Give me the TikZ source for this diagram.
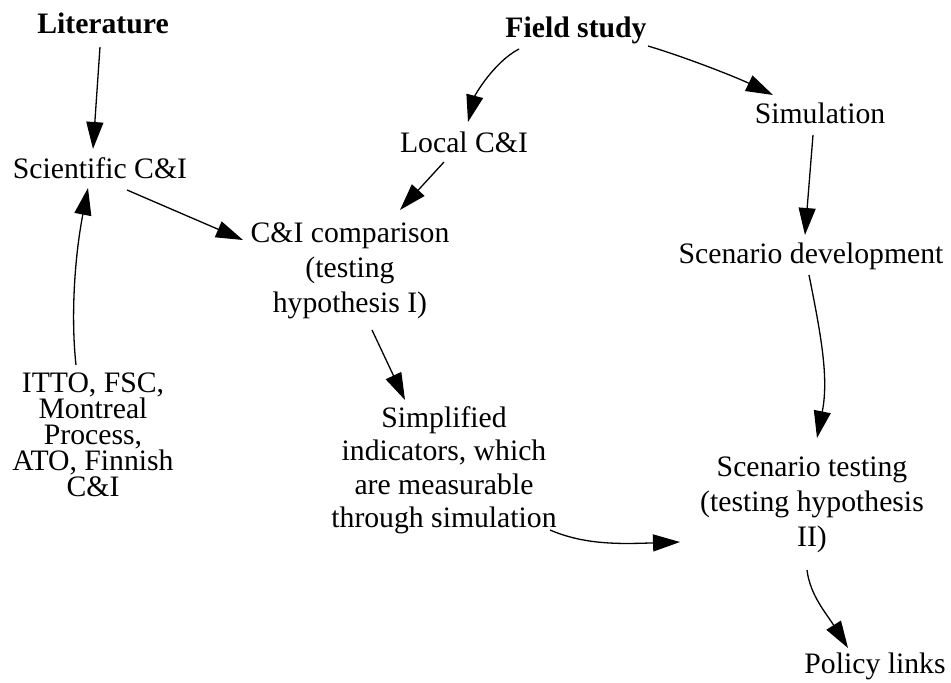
\documentclass[tikz,border=0pt]{standalone}
\usepackage{fontspec}
\setmainfont{Liberation Serif}
\usetikzlibrary{arrows.meta}
\begin{document}
\lineskiplimit=-30pt
\begin{tikzpicture}[x=1pt,y=-1pt,
  lbl/.style={inner sep=0pt, anchor=base, font=\fontsize{29.7}{34}\selectfont},
  boldlbl/.style={inner sep=0pt, anchor=base, font=\fontsize{29.7}{34}\selectfont\bfseries},
  blk/.style={inner sep=0pt, anchor=north, align=center,
    font=\fontsize{29.7}{#1}\selectfont},
  arr/.style={line width=1.3pt, -{Triangle[length=27pt,width=17pt]}}]
\useasboundingbox (0,0) rectangle (951,683);

% sources
\node[boldlbl] (lit)   at (103,33)  {Literature};
\node[boldlbl] (field) at (576,37)  {Field study};

% single-line steps
\node[lbl] (sci)    at (100,178) {Scientific C\&I};
\node[lbl] (local)  at (464,152) {Local C\&I};
\node[lbl] (sim)    at (820,123) {Simulation};
\node[lbl] (scdev)  at (811,263) {Scenario development};
\node[lbl] (policy) at (875,673) {Policy links};

% multi-line steps
\node[blk=35] (comp) at (350,220)
  {\rule{0pt}{22pt}C\&I comparison\\(testing\\hypothesis I)};
\node[blk=33.5] (simp) at (444,405)
  {\rule{0pt}{22pt}Simplified\\indicators, which\\are measurable\\through simulation};
\node[blk=35] (scent) at (812,454)
  {\rule{0pt}{22pt}Scenario testing\\(testing hypothesis\\II)};
\node[blk=26] (itto) at (93,370)
  {\rule{0pt}{22pt}ITTO, FSC,\\Montreal\\Process,\\ATO, Finnish\\C\&I};

% connectors
\draw[arr] ([shift={(-3,14)}]lit.base) -- ([shift={(-7,-29)}]sci.base);
\draw[arr] ([shift={(-17,-5)}]itto.north)
  .. controls +(-5,-45) and +(-14,72) .. ([shift={(-12,10)}]sci.base);
\draw[arr] ([shift={(27,12)}]sci.base) -- ([shift={(-107,20)}]comp.north);
\draw[arr] ([shift={(-57,12)}]field.base)
  .. controls +(-25,13) and +(7,-27) .. ([shift={(4,-30)}]local.base);
\draw[arr] ([shift={(72,9)}]field.base)
  .. controls +(40,12) and +(-35,-17) .. ([shift={(-47,-28)}]sim.base);
\draw[arr] ([shift={(-20,10)}]local.base) -- ([shift={(50,-10)}]comp.north);
\draw[arr] ([shift={(-7,12)}]sim.base) -- ([shift={(-6,-28)}]scdev.base);
\draw[arr] ([shift={(22,110)}]comp.north) -- ([shift={(-39,-5)}]simp.north);
\draw[arr] ([shift={(-2,12)}]scdev.base)
  .. controls +(12,60) and +(12,-60) .. ([shift={(5,-16)}]scent.north);
\draw[arr] ([shift={(106,125)}]simp.north)
  .. controls +(35,15) and +(-60,2) .. ([shift={(-132,88)}]scent.north);
\draw[arr] ([shift={(-5,116)}]scent.north)
  .. controls +(3,25) and +(-22,-35) .. ([shift={(-27,-25)}]policy.base);
\end{tikzpicture}
\end{document}
